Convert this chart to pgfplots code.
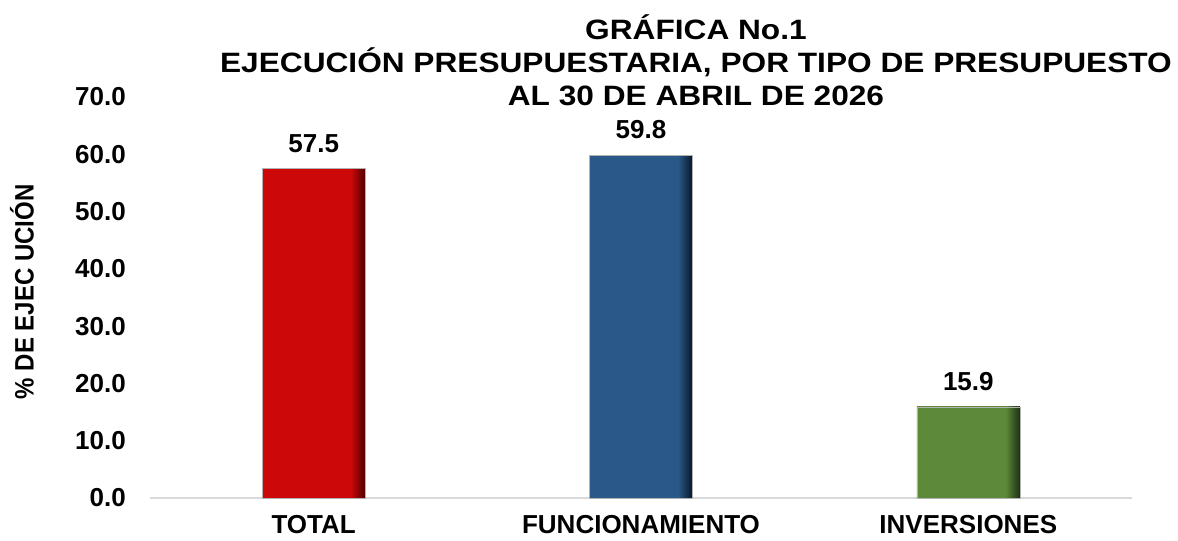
\documentclass[border=0pt]{standalone}
\usepackage{fontspec}
\setmainfont{Liberation Sans}
\newfontfamily\titlefont[FakeStretch=1.13]{Liberation Sans}
\newfontfamily\ylabfont[FakeStretch=0.9]{Liberation Sans}
\usepackage{pgfplots}
\pgfplotsset{compat=1.18}
\definecolor{redM}{RGB}{204,8,8}
\definecolor{redD}{RGB}{80,0,0}
\definecolor{bluM}{RGB}{42,88,136}
\definecolor{bluD}{RGB}{8,22,40}
\definecolor{grnM}{RGB}{92,138,58}
\definecolor{grnD}{RGB}{28,48,18}
\pgfdeclarehorizontalshading{redbar}{100bp}{color(0bp)=(redM); color(25bp)=(redM); color(68bp)=(redM); color(75bp)=(redD); color(100bp)=(redD)}
\pgfdeclarehorizontalshading{blubar}{100bp}{color(0bp)=(bluM); color(25bp)=(bluM); color(68bp)=(bluM); color(75bp)=(bluD); color(100bp)=(bluD)}
\pgfdeclarehorizontalshading{grnbar}{100bp}{color(0bp)=(grnM); color(25bp)=(grnM); color(68bp)=(grnM); color(75bp)=(grnD); color(100bp)=(grnD)}
\begin{document}
\begin{tikzpicture}
\path[use as bounding box] (-112.5pt,-31.5pt) rectangle (771pt,373.5pt);
\begin{axis}[
  at={(0,0)}, anchor=south west,
  scale only axis, width=736.5pt, height=300.75pt,
  xmin=-0.5, xmax=2.5, ymin=0, ymax=70,
  ytick={0,10,...,70},
  xtick={0,1,2},
  xticklabels={TOTAL,FUNCIONAMIENTO,INVERSIONES},
  axis x line*=bottom, axis y line*=left,
  y axis line style={draw=none},
  x axis line style={draw=black!15, line width=1.1pt},
  major tick length=0pt,
  /pgf/number format/assume math mode=true,
  /pgf/number format/.cd, fixed, fixed zerofill, precision=1, /pgfplots/.cd,
  tick label style={font=\fontsize{19.5}{22}\selectfont\bfseries},
  yticklabel style={anchor=east, inner sep=0pt, xshift=-18pt},
  xticklabel style={anchor=north, inner sep=0pt, yshift=-13pt},
  ylabel={\% DE EJEC UCIÓN},
  ylabel style={at={(axis description cs:-0.1303,0.514)}, anchor=center, rotate=0, font=\ylabfont\fontsize{20}{22}\selectfont\bfseries},
  title={GRÁFICA No.1\\EJECUCIÓN PRESUPUESTARIA, POR TIPO DE PRESUPUESTO\\AL 30 DE ABRIL DE 2026},
  title style={at={(axis description cs:0.556,0.9577)}, anchor=south, inner sep=0pt, align=center, font=\titlefont\fontsize{21}{24.75}\selectfont\bfseries},
  ybar, bar width=77.25pt,
  nodes near coords,
  nodes near coords style={anchor=south, inner sep=0pt, yshift=12pt, font=\fontsize{19.5}{22}\selectfont\bfseries, /pgf/number format/.cd, fixed, fixed zerofill, precision=1, assume math mode=true},
]
\addplot[bar shift=0pt, draw=black!30, line width=0.4pt, shading=redbar] coordinates {(0,57.5)};
\addplot[bar shift=0pt, draw=black!30, line width=0.4pt, shading=blubar] coordinates {(1,59.8)};
\addplot[bar shift=0pt, draw=black!30, line width=0.4pt, shading=grnbar] coordinates {(2,15.9)};
\end{axis}
\end{tikzpicture}
\end{document}
